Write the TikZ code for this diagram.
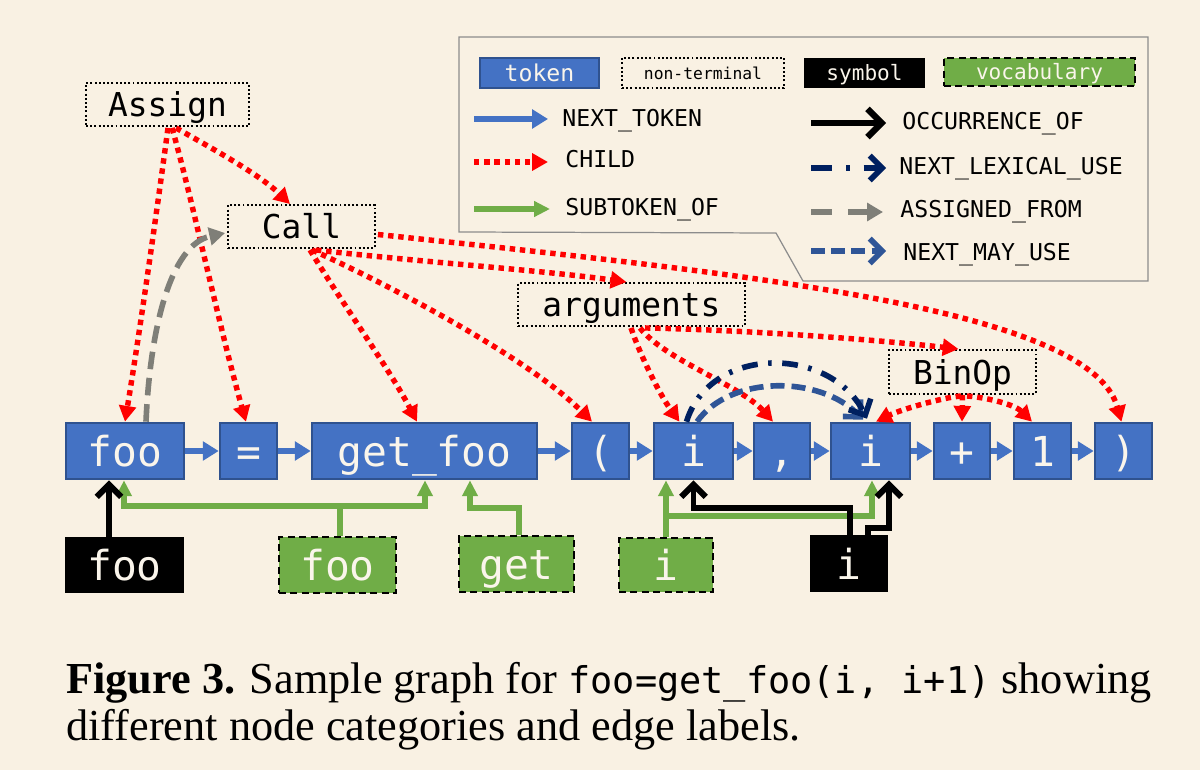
\documentclass[tikz,border=0pt]{standalone}
\usepackage{fontspec}
\setmainfont{Liberation Serif}
\newfontfamily\codefont{DejaVu Sans Mono}
\usetikzlibrary{arrows.meta,calc}
\definecolor{bg}{RGB}{249,241,227}
\definecolor{tokblue}{RGB}{68,114,196}
\definecolor{tokborder}{RGB}{47,82,143}
\definecolor{vgreen}{RGB}{112,173,71}
\definecolor{cred}{RGB}{255,0,0}
\definecolor{agray}{RGB}{127,127,120}
\definecolor{navy}{RGB}{0,32,96}
\definecolor{mayblue}{RGB}{47,85,151}
\definecolor{txtw}{RGB}{250,245,235}
\definecolor{lgray}{RGB}{140,140,140}
\begin{document}
\begin{tikzpicture}[x=0.02cm,y=-0.02cm,
  tokfont/.style={font=\codefont\fontsize{23.5}{24}\selectfont, text height=22pt, text depth=4pt},
  tok/.style={tokfont, draw=tokborder, line width=1.5pt, fill=tokblue, text=txtw, minimum height=1.12cm, inner sep=0pt},
  sym/.style={tokfont, fill=black, text=txtw, minimum height=1.12cm, inner sep=0pt},
  voc/.style={tokfont, fill=vgreen, draw=black, dash pattern=on 4pt off 2.5pt, line width=1.3pt, text=txtw, minimum height=1.12cm, inner sep=0pt},
  nt/.style={draw=black, dash pattern=on 1.1pt off 1.3pt, line width=1.1pt, font=\codefont\fontsize{18.7}{19}\selectfont, text height=17pt, text depth=2.8pt, minimum height=0.86cm, inner sep=0pt},
  lgtext/.style={font=\codefont\fontsize{13.2}{14}\selectfont, anchor=base west, inner sep=0pt},
  nextarr/.style={tokblue, line width=3.7pt, -{Triangle[length=9pt,width=10.5pt]}},
  child/.style={cred, line width=3.1pt, dash pattern=on 3.1pt off 2.7pt, -{Triangle[length=9pt,width=9.5pt]}},
  sub/.style={vgreen, line width=3.4pt, -{Triangle[length=9pt,width=8.5pt]}},
  occ/.style={black, line width=3.4pt, -{Straight Barb[length=7pt,width=14pt]}},
  lex/.style={navy, line width=3.2pt, dash pattern=on 9pt off 6pt on 2pt off 6pt, -{Straight Barb[length=7pt,width=14pt]}},
  assigned/.style={agray, line width=3.2pt, dash pattern=on 10pt off 5pt, -{Triangle[length=9pt,width=10pt]}},
  may/.style={mayblue, line width=3.2pt, dash pattern=on 8pt off 4pt, -{Straight Barb[length=7pt,width=14pt]}}
]
\fill[bg] (0,0) rectangle (1200,770);
\useasboundingbox (0,0) rectangle (1200,770);

% legend frame
\draw[lgray, line width=0.7pt] (459,37) -- (1148,37) -- (1148,281) -- (803,281) -- (776,233) -- (459,232) -- cycle;
\node[tok, minimum width=2.38cm, minimum height=0.6cm, font=\codefont\fontsize{13.2}{14}\selectfont, text height=10pt, text depth=0.8pt] (lgtok) at (539.5,73) {token};
\node[nt, minimum width=3.24cm, minimum height=0.6cm, font=\codefont\fontsize{9.3}{10}\selectfont, text height=7.5pt, text depth=0.5pt] (lgnt) at (703,73) {non-terminal};
\node[sym, minimum width=2.42cm, minimum height=0.6cm, font=\codefont\fontsize{12}{13}\selectfont, text height=9.5pt, text depth=0.8pt] (lgsym) at (864.5,73) {symbol};
\node[voc, minimum width=3.82cm, minimum height=0.56cm, font=\codefont\fontsize{12}{13}\selectfont, text height=9.5pt, text depth=0.8pt] (lgvoc) at (1039.5,72) {vocabulary};

\coordinate (l1a) at (474,119); \coordinate (l1b) at (548,119);
\coordinate (l2a) at (474,162); \coordinate (l2b) at (548,162);
\coordinate (l3a) at (474,209); \coordinate (l3b) at (550,209);
\coordinate (r1a) at (811,123); \coordinate (r1b) at (886,123);
\coordinate (r2a) at (811,168); \coordinate (r2b) at (886,168);
\coordinate (r3a) at (811,212); \coordinate (r3b) at (883,212);
\coordinate (r4a) at (811,251); \coordinate (r4b) at (886,251);
\draw[nextarr] (l1a) -- (l1b);
\draw[child] (l2a) -- (l2b);
\draw[sub] (l3a) -- (l3b);
\draw[occ, line width=3.6pt, -{Straight Barb[length=8pt,width=16pt]}] (r1a) -- (r1b);
\draw[lex, dash pattern=on 12pt off 8pt on 2pt off 8pt] (r2a) -- (r2b);
\draw[assigned, dash pattern=on 12pt off 9pt] (r3a) -- (r3b);
\draw[may, dash pattern=on 8pt off 3.5pt] (r4a) -- (r4b);
\node[lgtext] (t1) at (562,127) {NEXT\_TOKEN};
\node[lgtext] (t2) at (565,168) {CHILD};
\node[lgtext] (t3) at (565,215) {SUBTOKEN\_OF};
\node[lgtext] (t4) at (902,130) {OCCURRENCE\_OF};
\node[lgtext] (t5) at (899,175) {NEXT\_LEXICAL\_USE};
\node[lgtext] (t6) at (900,218) {ASSIGNED\_FROM};
\node[lgtext] (t7) at (903,260) {NEXT\_MAY\_USE};

% tokens
\node[tok, minimum width=2.36cm] (foo) at (125,451) {foo};
\node[tok, minimum width=1.14cm] (eq) at (248.5,451) {=};
\node[tok, minimum width=4.5cm] (getfoo) at (424.5,451) {get\_foo};
\node[tok, minimum width=1.14cm] (lp) at (600.5,451) {(};
\node[tok, minimum width=1.58cm] (i1) at (693.5,451) {i};
\node[tok, minimum width=1.12cm] (comma) at (782,451) {,};
\node[tok, minimum width=1.58cm] (i2) at (870.5,451) {i};
\node[tok, minimum width=1.12cm] (plus) at (962,451) {+};
\node[tok, minimum width=1.14cm] (one) at (1042.5,451) {1};
\node[tok, minimum width=1.14cm] (rp) at (1123.5,451) {)};
\draw[nextarr] (foo) -- (eq);
\draw[nextarr] (eq) -- (getfoo);
\draw[nextarr] (getfoo) -- (lp);
\draw[nextarr] (lp) -- (i1);
\draw[nextarr] (i1) -- (comma);
\draw[nextarr] (comma) -- (i2);
\draw[nextarr] (i2) -- (plus);
\draw[nextarr] (plus) -- (one);
\draw[nextarr] (one) -- (rp);

% bottom nodes
\node[sym, minimum width=2.38cm] (sfoo) at (124.5,565) {foo};
\node[voc, minimum width=2.34cm] (vfoo) at (337.5,565) {foo};
\node[voc, minimum width=2.3cm] (vget) at (516.5,564) {get};
\node[voc, minimum width=1.88cm, minimum height=1.08cm] (vi) at (666,565) {i};
\node[sym, minimum width=1.56cm, minimum height=1.14cm] (si) at (849,563.5) {i};

% non-terminals
\node[nt, minimum width=3.26cm] (Assign) at (167.5,104.5) {Assign};
\node[nt, minimum width=2.94cm] (Call) at (301.5,226.5) {Call};
\node[nt, minimum width=4.54cm] (args) at (631.5,304.5) {arguments};
\node[nt, minimum width=2.94cm, minimum height=0.88cm] (BinOp) at (962.5,372) {BinOp};

% subtoken edges
\draw[sub] ($(vfoo.north)+(2.5,0)$) -- ($(vfoo.north)+(2.5,-30)$) -| ($(foo.south)+(-1,0)$);
\draw[sub] ($(vfoo.north)+(2.5,-30)$) -| ($(getfoo.south)+(0.5,0)$);
\draw[sub] ($(vget.north)+(2.5,0)$) |- ($(getfoo.south)+(45.5,28)$) -- ($(getfoo.south)+(45.5,0)$);
\draw[sub] (vi.north) -- ($(i1.south)+(-27.5,0)$);
\draw[sub] ($(vi.north)+(0,-21)$) -| ($(i2.south)+(1.5,0)$);

% occurrence edges
\draw[occ] ($(sfoo.north)+(-15.5,0)$) -- ($(foo.south)+(-16,0)$);
\draw[occ] ($(si.north)+(1,0)$) |- ($(i1.south)+(0,28)$) -- (i1.south);
\draw[occ] ($(si.north)+(19,0)$) |- ($(i2.south)+(18.5,48)$) -- ($(i2.south)+(18.5,0)$);

% child edges
\draw[child] ($(Assign.south)+(0.5,1)$) .. controls (157,210) and (140,330) .. (foo.north);
\draw[child] ($(Assign.south)+(4.5,1)$) .. controls (190,190) and (220,330) .. ($(eq.north)+(-2.5,0)$);
\draw[child] ($(Assign.south)+(8.5,1)$) .. controls (215,150) and (260,175) .. ($(Call.north)+(-11.5,0)$);
\draw[child] ($(Call.south)+(8.5,1)$) .. controls (340,300) and (390,370) .. ($(getfoo.north)+(-7.5,0)$);
\draw[child] ($(Call.south)+(10.5,1)$) .. controls (400,290) and (530,360) .. ($(lp.north)+(-8.5,0)$);
\draw[child] ($(Call.south)+(14.5,1)$) .. controls (420,262) and (540,270) .. ($(args.north)+(-5,0)$);
\draw[child] ($(Call.east)+(2,8)$) .. controls (760,275) and (1090,310) .. ($(rp.north)+(-2,0)$);
\draw[child] ($(args.south)+(-0.5,1)$) .. controls (640,355) and (660,395) .. ($(i1.north)+(-14,0)$);
\draw[child] ($(args.south)+(8.5,1)$) .. controls (665,360) and (740,385) .. ($(comma.north)+(-9,0)$);
\draw[child] ($(args.south)+(13.5,1)$) .. controls (750,330) and (880,340) .. ($(BinOp.north)+(-4,0)$);
\draw[child] ($(BinOp.south)+(-1.5,1)$) .. controls (940,398) and (900,410) .. ($(i2.north)+(5.5,0)$);
\draw[child] (BinOp.south) -- (plus.north);
\draw[child] ($(BinOp.south)+(4.5,1)$) .. controls (990,398) and (1015,405) .. ($(one.north)+(-10.5,0)$);

% assigned from
\draw[assigned] ($(foo.north)+(21,0)$) .. controls (150,330) and (170,245) .. ($(Call.west)+(-2,6.5)$);

% lexical / may use
\draw[may] ($(i1.north)+(3.5,0)$) .. controls (730,375) and (820,375) .. ($(i2.north)+(-7.5,-2)$);
\draw[lex] ($(i1.north)+(-7,0)$) .. controls (710,345) and (830,345) .. ($(i2.north)+(-3.5,-3)$);

% caption
\node[anchor=base west, inner sep=0pt, font=\fontsize{25.2}{30}\selectfont] (cap1) at (66,693) {\textbf{Figure 3.} Sample graph for {\codefont\fontsize{21}{30}\selectfont foo=get\_foo(i, i+1)} showing};
\node[anchor=base west, inner sep=0pt, font=\fontsize{25.2}{30}\selectfont] (cap2) at (66,740) {different node categories and edge labels.};
\end{tikzpicture}
\end{document}
